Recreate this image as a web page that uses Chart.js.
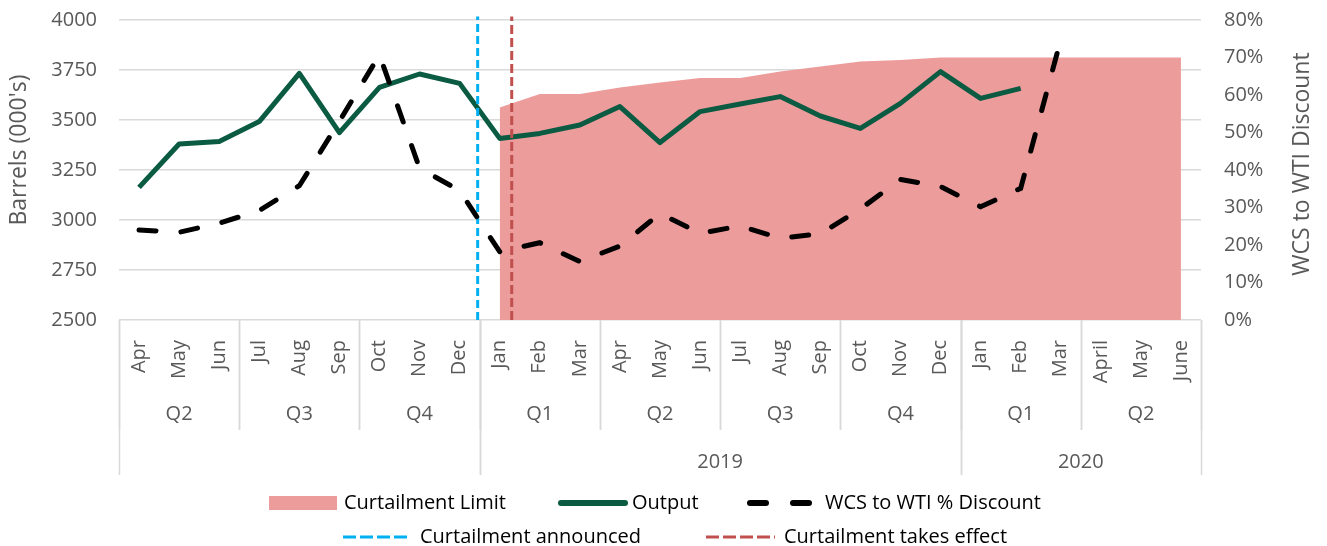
<!DOCTYPE html>
<html>
<head>
<meta charset="utf-8">
<script src="https://cdn.jsdelivr.net/npm/chart.js@4"></script>
<style>
  body { margin: 0; background: #fff; }
</style>
</head>
<body>
<canvas id="chart" width="1327" height="546"></canvas>
<script>
// categories
var months = ['Apr', 'May', 'Jun', 'Jul', 'Aug', 'Sep', 'Oct', 'Nov', 'Dec',
    'Jan', 'Feb', 'Mar', 'Apr', 'May', 'Jun', 'Jul', 'Aug', 'Sep', 'Oct', 'Nov', 'Dec',
    'Jan', 'Feb', 'Mar', 'April', 'May', 'June'];
var quarters = ['Q2', 'Q2', 'Q2', 'Q3', 'Q3', 'Q3', 'Q4', 'Q4', 'Q4',
    'Q1', 'Q1', 'Q1', 'Q2', 'Q2', 'Q2', 'Q3', 'Q3', 'Q3', 'Q4', 'Q4', 'Q4',
    'Q1', 'Q1', 'Q1', 'Q2', 'Q2', 'Q2'];
var years = ['', '', '', '', '', '', '', '', '',
    '2019', '2019', '2019', '2019', '2019', '2019', '2019', '2019', '2019', '2019', '2019', '2019',
    '2020', '2020', '2020', '2020', '2020', '2020'];

// series (barrels, 000's)
var curtailmentLimit = [null, null, null, null, null, null, null, null, null,
    3563, 3630, 3630, 3663, 3687, 3710, 3710, 3742, 3767, 3792, 3800, 3812,
    3812, 3812, 3812, 3812, 3812, 3812];
var output = [3163, 3380, 3392, 3492, 3733, 3437, 3663, 3730, 3683,
    3408, 3433, 3475, 3567, 3387, 3542, 3580, 3617, 3520, 3458, 3583, 3742,
    3608, 3658, null, null, null, null];
// WCS to WTI discount (fraction)
var discount = [0.24, 0.234, 0.258, 0.292, 0.358, 0.53, 0.707, 0.405, 0.345,
    0.182, 0.206, 0.156, 0.197, 0.284, 0.231, 0.251, 0.218, 0.23, 0.296, 0.375, 0.356,
    0.302, 0.351, 0.747, null, null, null];

// event markers (position on the month index axis)
var announcedAt = 8.45;
var takesEffectAt = 9.3;

// axis ticks
var barrelTicks = {min: 2500, max: 4000, step: 250};
var discountTicks = {min: 0, max: 0.8, step: 0.1};

var grey = '#595959';
var font = '"Open Sans", sans-serif';

function runs(arr) {
    var out = [];
    for (var i = 0; i < arr.length; i++) {
        if (i === 0 || arr[i] !== arr[i - 1]) out.push({label: arr[i], start: i, end: i});
        else out[out.length - 1].end = i;
    }
    return out;
}

var extras = {
    id: 'extras',
    afterDraw: function (chart) {
        var ctx = chart.ctx;
        var xv = chart.scales.xv;
        var base = chart.chartArea.bottom;
        ctx.save();

        // grouped axis separators and labels
        ctx.strokeStyle = '#d9d9d9';
        ctx.lineWidth = 1.5;
        ctx.fillStyle = grey;
        ctx.font = '20px ' + font;
        ctx.textAlign = 'center';
        ctx.textBaseline = 'middle';
        runs(quarters).forEach(function (r) {
            [r.start - 0.5, r.end + 0.5].forEach(function (v) {
                var px = Math.round(xv.getPixelForValue(v)) + 0.5;
                ctx.beginPath(); ctx.moveTo(px, base); ctx.lineTo(px, base + 110); ctx.stroke();
            });
            ctx.fillText(r.label, xv.getPixelForValue((r.start + r.end) / 2), base + 94);
        });
        runs(years).forEach(function (r) {
            [r.start - 0.5, r.end + 0.5].forEach(function (v) {
                var px = Math.round(xv.getPixelForValue(v)) + 0.5;
                ctx.beginPath(); ctx.moveTo(px, base); ctx.lineTo(px, base + 155); ctx.stroke();
            });
            if (r.label) ctx.fillText(r.label, xv.getPixelForValue((r.start + r.end) / 2), base + 142);
        });

        // axis titles
        ctx.font = '23px ' + font;
        ctx.save();
        ctx.translate(19, 150);
        ctx.rotate(-Math.PI / 2);
        ctx.fillText("Barrels (000's)", 0, 0);
        ctx.restore();
        ctx.save();
        ctx.translate(1302, 164);
        ctx.rotate(-Math.PI / 2);
        ctx.fillText('WCS to WTI Discount', 0, 0);
        ctx.restore();

        // legend
        ctx.font = '20px ' + font;
        ctx.textAlign = 'left';
        var r1 = 503, r2 = 537;
        ctx.fillStyle = '#ed9c9c';
        ctx.fillRect(269, r1 - 7, 68, 14);
        ctx.fillStyle = '#000';
        ctx.fillText('Curtailment Limit', 344, r1);

        ctx.lineCap = 'round';
        ctx.strokeStyle = '#0b5a42';
        ctx.lineWidth = 6;
        ctx.beginPath(); ctx.moveTo(561, r1); ctx.lineTo(625, r1); ctx.stroke();
        ctx.fillText('Output', 632, r1);

        ctx.strokeStyle = '#000';
        ctx.setLineDash([16, 27]);
        ctx.beginPath(); ctx.moveTo(750, r1); ctx.lineTo(810, r1); ctx.stroke();
        ctx.fillText('WCS to WTI % Discount', 825, r1);

        ctx.lineCap = 'butt';
        ctx.lineWidth = 3;
        ctx.setLineDash([13, 4]);
        ctx.strokeStyle = '#00b0f0';
        ctx.beginPath(); ctx.moveTo(343, r2); ctx.lineTo(410, r2); ctx.stroke();
        ctx.fillText('Curtailment announced', 420, r2);

        ctx.strokeStyle = '#c0504d';
        ctx.beginPath(); ctx.moveTo(706, r2); ctx.lineTo(775, r2); ctx.stroke();
        ctx.fillText('Curtailment takes effect', 784, r2);

        ctx.restore();
    }
};

var ctx = document.getElementById('chart').getContext('2d');
var myChart = new Chart(ctx, {
    type: 'line',
    data: {
        labels: months,
        datasets: [{
            label: 'WCS to WTI % Discount',
            data: discount,
            yAxisID: 'y1',
            borderColor: '#000',
            borderWidth: 5,
            borderDash: [17, 25],
            borderCapStyle: 'round',
            pointRadius: 0,
            order: 1
        }, {
            label: 'Curtailment announced',
            data: [{x: announcedAt, y: barrelTicks.min}, {x: announcedAt, y: 4017}],
            xAxisID: 'xv',
            borderColor: '#00b0f0',
            borderWidth: 3,
            borderDash: [8, 4],
            pointRadius: 0,
            clip: false,
            order: 3
        }, {
            label: 'Curtailment takes effect',
            data: [{x: takesEffectAt, y: barrelTicks.min}, {x: takesEffectAt, y: 4017}],
            xAxisID: 'xv',
            borderColor: '#c0504d',
            borderWidth: 3,
            borderDash: [9, 4],
            pointRadius: 0,
            clip: false,
            order: 3
        }, {
            label: 'Output',
            data: output,
            borderColor: '#0b5a42',
            borderWidth: 5,
            borderJoinStyle: 'round',
            pointRadius: 0,
            order: 4
        }, {
            label: 'Curtailment Limit',
            data: curtailmentLimit,
            backgroundColor: '#ed9c9c',
            borderWidth: 0,
            pointRadius: 0,
            fill: 'origin',
            order: 5
        }]
    },
    options: {
        responsive: false,
        animation: false,
        layout: {padding: {top: 20, bottom: 80, left: 0, right: 0}},
        plugins: {
            legend: {display: false},
            tooltip: {enabled: false}
        },
        scales: {
            x: {
                type: 'category',
                offset: true,
                grid: {display: false},
                border: {display: false},
                ticks: {
                    autoSkip: false,
                    minRotation: 90,
                    maxRotation: 90,
                    padding: 12,
                    color: grey,
                    font: {family: font, size: 20}
                },
                afterFit: function (s) { s.height = 146; }
            },
            xv: {
                type: 'linear',
                display: false,
                min: -0.5,
                max: months.length - 0.5
            },
            y: {
                position: 'left',
                min: barrelTicks.min,
                max: barrelTicks.max,
                ticks: {
                    stepSize: barrelTicks.step,
                    padding: 3,
                    color: grey,
                    font: {family: font, size: 20},
                    callback: function (v) { return String(v); }
                },
                grid: {color: '#d9d9d9', lineWidth: 1.5, drawTicks: true, tickLength: 19, tickColor: 'rgba(0,0,0,0)'},
                border: {display: false},
                afterFit: function (s) { s.width = 119; }
            },
            y1: {
                position: 'right',
                min: discountTicks.min,
                max: discountTicks.max,
                ticks: {
                    stepSize: discountTicks.step,
                    padding: 3,
                    color: grey,
                    font: {family: font, size: 20},
                    callback: function (v) { return Math.round(v * 100) + '%'; }
                },
                grid: {drawOnChartArea: false, drawTicks: true, tickLength: 20, color: 'rgba(0,0,0,0)'},
                border: {display: false},
                afterFit: function (s) { s.width = 126; }
            }
        }
    },
    plugins: [extras]
});
</script>
</body>
</html>
